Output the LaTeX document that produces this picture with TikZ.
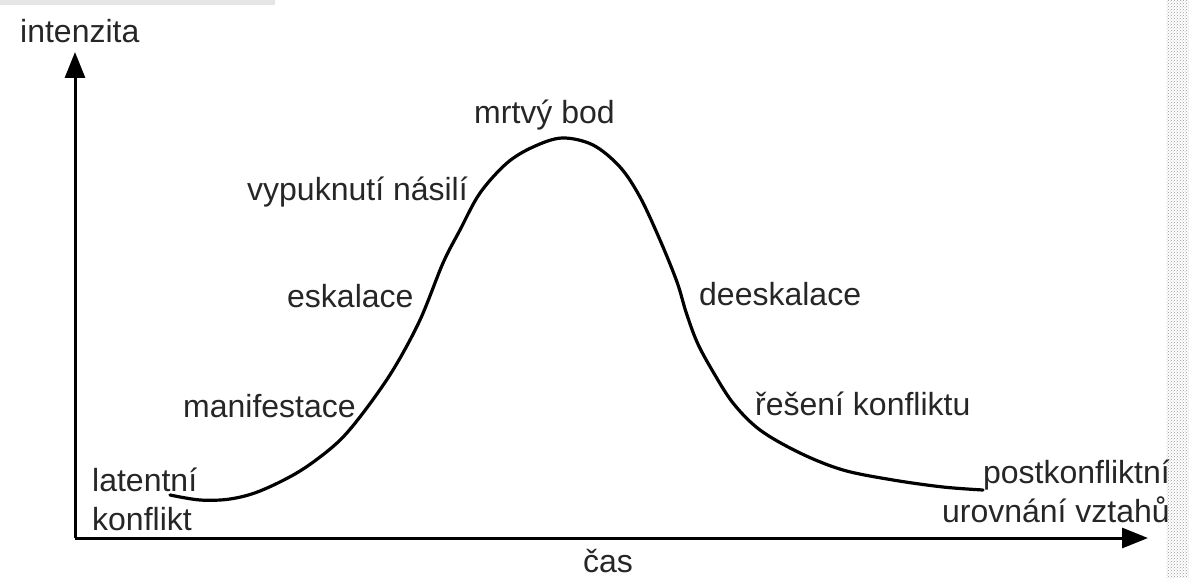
\documentclass[tikz,border=0pt]{standalone}
\usepackage{fontspec}
\setmainfont{Liberation Sans}
\usetikzlibrary{arrows.meta,patterns}
\begin{document}
\begin{tikzpicture}[x=1pt,y=-1pt,
  lbl/.style={inner sep=0pt,text=black!85,font=\fontsize{32}{38}\selectfont},
  axisline/.style={line width=3pt,-{Triangle[length=26pt,width=20pt]}},
  curveline/.style={line width=3.2pt,line cap=round,line join=round}]
\useasboundingbox (0,0) rectangle (1189,578);
% scan artefacts
\fill[black!10] (0,0) rectangle (275,5);
\fill[pattern=crosshatch dots,pattern color=black!40] (1166,0) rectangle (1189,578);
% axes
\coordinate (O) at (75,538);
\coordinate (Ytop) at (75,52);
\coordinate (Xend) at (1148,538);
\draw[axisline] (O) -- (Ytop);
\draw[axisline] (O) -- (Xend);
% curve
\draw[curveline] plot[smooth,tension=0.55] coordinates {
 (170,495) (200,500) (230,499) (260,491) (300,471) (337,443) (363,413)
 (393,370) (420,320) (443,263) (460,230) (480,193) (507,163) (533,147)
 (562,138) (593,145) (620,167) (640,197) (660,240) (677,282) (686,312)
 (697,342) (712,370) (733,403) (760,430) (800,453) (843,470) (893,480)
 (943,487) (983,490)};
% labels
\node[lbl,anchor=base west] (intenzita) at (20,43) {intenzita};
\node[lbl,anchor=base west] (mrtvy) at (474,123) {mrtvý bod};
\node[lbl,anchor=base west] (vypuknuti) at (247,200) {vypuknutí násilí};
\node[lbl,anchor=base west] (eskalace) at (287,307) {eskalace};
\node[lbl,anchor=base west] (manifestace) at (183,417) {manifestace};
\node[lbl,anchor=base west] (deeskalace) at (699,305) {deeskalace};
\node[lbl,anchor=base west] (reseni) at (755,415) {řešení konfliktu};
\node[lbl,anchor=base west] (latentni) at (92,491) {latentní};
\node[lbl,anchor=base west] (konflikt) at (92,530) {konflikt};
\node[lbl,anchor=base east] (post) at (1170,483) {postkonfliktní};
\node[lbl,anchor=base east] (urovnani) at (1170,522) {urovnání vztahů};
\node[lbl,anchor=base west] (cas) at (583,572) {čas};
\end{tikzpicture}
\end{document}
